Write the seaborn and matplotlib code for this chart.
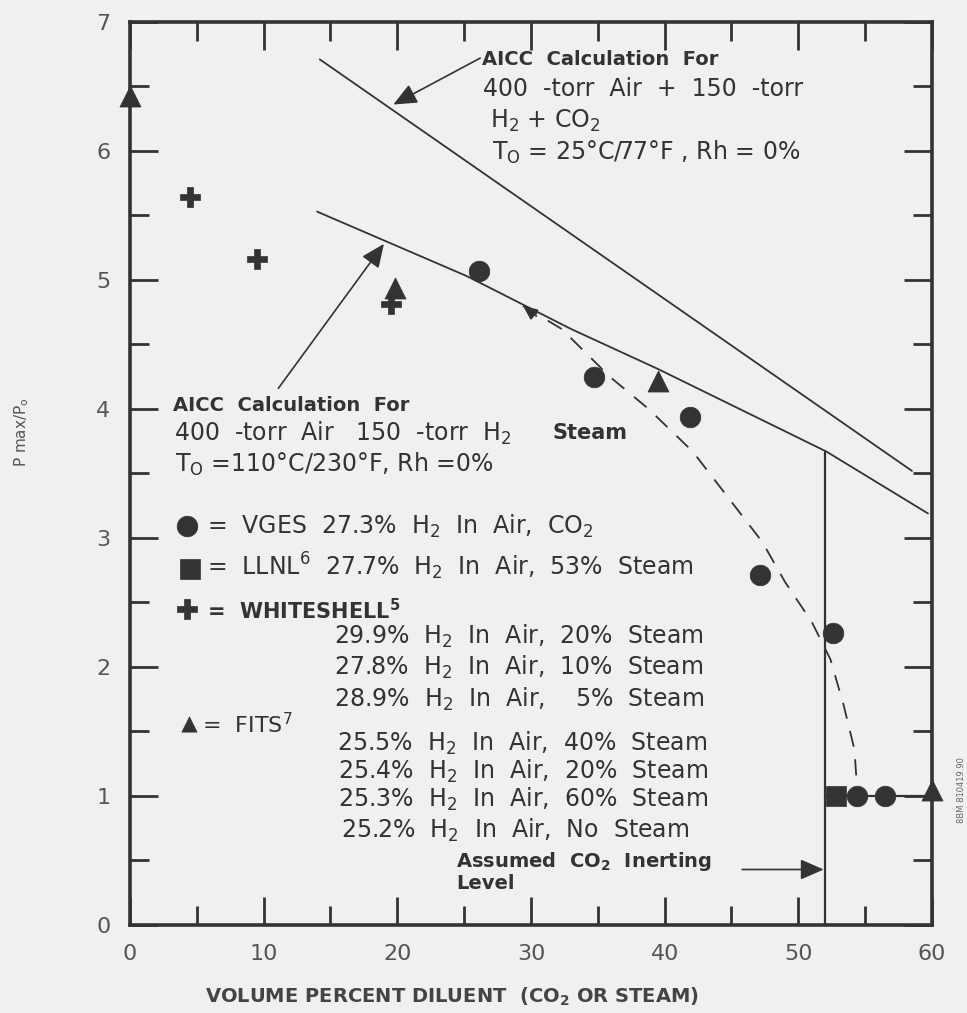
import matplotlib
matplotlib.use("Agg")
import matplotlib.pyplot as plt
import seaborn as sns
import pandas as pd

# ---------------- data ----------------
vges_x = [26.1, 34.7, 41.9, 47.1, 52.6, 54.4, 56.5]
vges_y = [5.07, 4.25, 3.94, 2.71, 2.26, 1.00, 1.00]
llnl_x = [52.8]
llnl_y = [1.00]
whiteshell_x = [4.5, 9.5, 19.5]
whiteshell_y = [5.64, 5.16, 4.81]
fits_x = [0.0, 19.8, 39.5, 60.0]
fits_y = [6.43, 4.94, 4.22, 1.05]

aicc_co2_x = [14.2, 58.5]
aicc_co2_y = [6.71, 3.52]
aicc_steam_x = [14.0, 25.2, 33.0, 39.5, 52.1, 59.7]
aicc_steam_y = [5.53, 5.03, 4.62, 4.31, 3.67, 3.19]
trend_x = [29.4, 32.3, 35.9, 38.8, 42.1, 45.0, 47.3, 49.0, 51.0, 52.4, 53.4, 54.2, 54.4]
trend_y = [4.80, 4.62, 4.25, 4.00, 3.67, 3.28, 2.97, 2.66, 2.35, 2.06, 1.70, 1.36, 1.05]
inert_x = [52.0, 52.0, 60.0]
inert_y = [3.67, 1.00, 1.00]
inert_base_x = [52.0, 52.0]
inert_base_y = [0.0, 1.00]

x_ticks = [0, 10, 20, 30, 40, 50, 60]
y_ticks = [0, 1, 2, 3, 4, 5, 6, 7]

legend_lines = [
    "29.9%  H$_2$  In  Air,  20%  Steam",
    "27.8%  H$_2$  In  Air,  10%  Steam",
    "28.9%  H$_2$  In  Air,    5%  Steam",
    "25.5%  H$_2$  In  Air,  40%  Steam",
    "25.4%  H$_2$  In  Air,  20%  Steam",
    "25.3%  H$_2$  In  Air,  60%  Steam",
    "25.2%  H$_2$  In  Air,  No  Steam",
]
legend_line_y = [2.24, 2.00, 1.75, 1.41, 1.19, 0.97, 0.73]
legend_line_x = [15.3, 15.3, 15.3, 15.5, 15.6, 15.6, 15.8]

# ---------------- style ----------------
sns.set_theme(style="ticks")
plt.rcParams["font.family"] = ["DejaVu Sans"]
plt.rcParams["mathtext.default"] = "regular"
INK = "#333333"
BG = "#f0f0ee"

fig = plt.figure(figsize=(9.67, 10.13), dpi=100, facecolor=BG)
ax = fig.add_axes([0.1344, 0.0869, 0.8294, 0.8914])
ax.set_facecolor(BG)

# lines
sns.lineplot(x=aicc_co2_x, y=aicc_co2_y, ax=ax, color=INK, lw=1.3, sort=False, estimator=None)
sns.lineplot(x=aicc_steam_x, y=aicc_steam_y, ax=ax, color=INK, lw=1.3, sort=False, estimator=None)
sns.lineplot(x=trend_x, y=trend_y, ax=ax, color=INK, lw=1.3, sort=False, estimator=None,
             dashes=False, linestyle=(0, (9, 7)))
sns.lineplot(x=inert_x, y=inert_y, ax=ax, color=INK, lw=1.6, sort=False, estimator=None)
sns.lineplot(x=inert_base_x, y=inert_base_y, ax=ax, color=INK, lw=1.6, sort=False, estimator=None)

# markers
mk = dict(color=INK, edgecolor=INK, linewidth=0.5, clip_on=False, zorder=4, ax=ax, legend=False)
sns.scatterplot(x=vges_x, y=vges_y, marker="o", s=220, **mk)
sns.scatterplot(x=llnl_x, y=llnl_y, marker="s", s=190, **mk)
sns.scatterplot(x=whiteshell_x, y=whiteshell_y, marker="P", s=220, **mk)
sns.scatterplot(x=fits_x, y=fits_y, marker="^", s=230, **mk)

# axes
ax.set_xlim(0, 60)
ax.set_ylim(0, 7)
ax.set_xticks(x_ticks)
ax.set_yticks(y_ticks)
ax.set_xticks([5, 15, 25, 35, 45, 55], minor=True)
ax.set_yticks([0.5, 1.5, 2.5, 3.5, 4.5, 5.5, 6.5], minor=True)
ax.tick_params(which="both", direction="in", top=True, right=True, color=INK,
               width=2, labelcolor="#555555", labelsize=16)
ax.tick_params(which="major", length=20)
ax.tick_params(which="minor", length=14)
ax.tick_params(axis="x", pad=14)
ax.tick_params(axis="y", pad=14)
for s in ax.spines.values():
    s.set_color(INK)
    s.set_linewidth(2.6)
ax.set_xlabel("")
ax.set_ylabel("")

fig.text(452 / 967, 1 - 997 / 1013, "VOLUME PERCENT DILUENT  (CO$_2$ OR STEAM)",
         ha="center", va="center", fontsize=14, fontweight="bold", color="#444444")
fig.text(22 / 967, 1 - 432 / 1013, "P max/P$_o$", rotation=90, ha="center", va="center",
         fontsize=11, color="#555555")
fig.text(962 / 967, 1 - 790 / 1013, "8BM 810419.90", rotation=90, ha="center", va="center",
         fontsize=6, color="#666666")

# annotation text
tk = dict(color=INK, ha="left", va="center")
ax.text(26.3, 6.71, "AICC  Calculation  For", fontsize=14, fontweight="bold", **tk)
ax.text(26.4, 6.48, "400  -torr  Air  +  150  -torr", fontsize=17, **tk)
ax.text(26.9, 6.23, "H$_2$ + CO$_2$", fontsize=17, **tk)
ax.text(27.1, 5.99, "T$_O$ = 25°C/77°F , Rh = 0%", fontsize=17, **tk)

ax.text(3.2, 4.03, "AICC  Calculation  For", fontsize=14, fontweight="bold", **tk)
ax.text(3.3, 3.81, "400  -torr  Air   150  -torr  H$_2$", fontsize=17, **tk)
ax.text(31.6, 3.81, "Steam", fontsize=15, fontweight="bold", **tk)
ax.text(3.4, 3.57, "T$_O$ =110°C/230°F, Rh =0%", fontsize=17, **tk)

# legend block
sns.scatterplot(x=[4.3], y=[3.09], marker="o", s=220, **mk)
sns.scatterplot(x=[4.5], y=[2.76], marker="s", s=220, **mk)
sns.scatterplot(x=[4.3], y=[2.45], marker="P", s=220, **mk)
sns.scatterplot(x=[4.4], y=[1.56], marker="^", s=120, **mk)
ax.text(5.8, 3.09, "=  VGES  27.3%  H$_2$  In  Air,  CO$_2$", fontsize=17, **tk)
ax.text(5.8, 2.78, "=  LLNL$^6$  27.7%  H$_2$  In  Air,  53%  Steam", fontsize=17, **tk)
ax.text(5.8, 2.44, "=  WHITESHELL$^5$", fontsize=15, fontweight="bold", **tk)
ax.text(5.4, 1.55, "=  FITS$^7$", fontsize=16, **tk)
for lx, ly, txt in zip(legend_line_x, legend_line_y, legend_lines):
    ax.text(lx, ly, txt, fontsize=17, **tk)
ax.text(24.4, 0.49, "Assumed  CO$_2$  Inerting", fontsize=14, fontweight="bold", **tk)
ax.text(24.4, 0.32, "Level", fontsize=14, fontweight="bold", **tk)

# arrows
ap = dict(arrowstyle="-|>,head_length=0.8,head_width=0.35", color=INK, lw=1.2,
          shrinkA=0, shrinkB=0, mutation_scale=18)
ax.annotate("", xy=(19.7, 6.36), xytext=(26.2, 6.72), arrowprops=ap)
ax.annotate("", xy=(19.0, 5.28), xytext=(11.1, 4.16), arrowprops=ap)
ax.annotate("", xy=(51.9, 0.43), xytext=(45.8, 0.43), arrowprops=ap)
ap2 = dict(ap, mutation_scale=11)
ax.annotate("", xy=(29.4, 4.80), xytext=(30.4, 4.72), arrowprops=ap2)

fig.savefig("out.png", dpi=100, facecolor=BG)
